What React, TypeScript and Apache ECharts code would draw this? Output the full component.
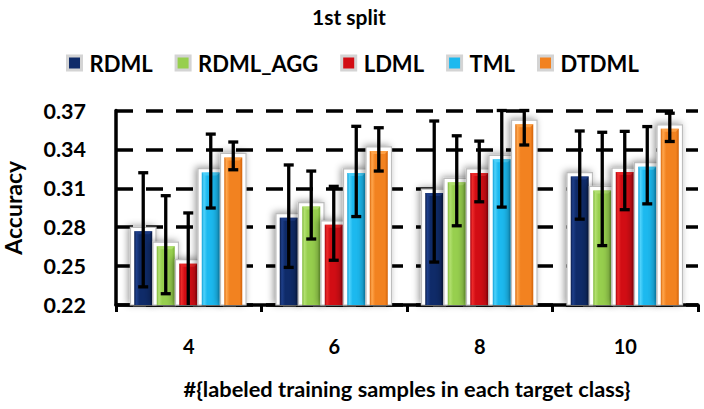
import React, { useEffect, useRef } from 'react';
import * as echarts from 'echarts';

const categories = ['4', '6', '8', '10'];
const methods = ['RDML', 'RDML_AGG', 'LDML', 'TML', 'DTDML'];

const rdml = [0.278, 0.2885, 0.3075, 0.3202];
const rdmlErr = [0.044, 0.0395, 0.0544, 0.034];
const rdmlAgg = [0.2665, 0.2971, 0.3158, 0.3095];
const rdmlAggErr = [0.0378, 0.0262, 0.0347, 0.0437];
const ldml = [0.253, 0.283, 0.323, 0.3237];
const ldmlErr = [0.038, 0.0285, 0.0234, 0.0302];
const tml = [0.3233, 0.323, 0.3335, 0.3278];
const tmlErr = [0.0285, 0.0348, 0.038, 0.0298];
const dtdml = [0.335, 0.34, 0.3606, 0.357];
const dtdmlErr = [0.0107, 0.0167, 0.0172, 0.0109];

const Y_MIN = 0.22;
const Y_MAX = 0.37;
const Y_STEP = 0.03;

const values = [rdml, rdmlAgg, ldml, tml, dtdml];
const errors = [rdmlErr, rdmlAggErr, ldmlErr, tmlErr, dtdmlErr];

// [edge dark, light, base, edge dark]
const palettes = [
  ['#0a1c4a', '#1e3f8a', '#0f2b69', '#081a44'],
  ['#7fb83a', '#b2e070', '#97cf4e', '#78b035'],
  ['#a8000c', '#ec2a2a', '#d20d14', '#a2000a'],
  ['#0f9fd6', '#4fd2fb', '#1cb9ef', '#0d9ad0'],
  ['#d9670a', '#ffa64d', '#f28220', '#d26208'],
];

const FONT = 'Lato';

export default function App() {
  const ref = useRef<HTMLDivElement>(null);
  useEffect(() => {
    const chart = echarts.init(ref.current!, null, { renderer: 'svg' });

    const barSeries = methods.map((name, idx) => {
      const pal = palettes[idx];
      return {
        name,
        type: 'custom',
        z: 2,
        itemStyle: { color: pal[2], borderColor: '#d4d4d4', borderWidth: 3 },
        data: categories.map((c, ci) => [ci, values[idx][ci]]),
        renderItem: (params: any, api: any) => {
          const cat = api.value(0);
          const v = api.value(1);
          const top = api.coord([cat, v]);
          const yBase = api.coord([cat, Y_MIN])[1];
          const catW = api.size([1, 0])[0];
          const pitch = catW * 0.1547;
          const cx = top[0] + (idx - 2) * pitch - 0.5;
          const yTop = top[1];
          const faceW = 18;
          const grad = new echarts.graphic.LinearGradient(0, 0, 1, 0, [
            { offset: 0, color: pal[0] },
            { offset: 0.12, color: pal[1] },
            { offset: 0.3, color: pal[2] },
            { offset: 0.85, color: pal[2] },
            { offset: 1, color: pal[3] },
          ]);
          return {
            type: 'group',
            children: [
              {
                type: 'rect',
                shape: { x: cx - pitch / 2 - 1.5, y: yTop - 2.5, width: pitch + 3, height: yBase - yTop + 2.5 },
                style: {
                  fill: '#ffffff',
                  stroke: '#bdbdbd',
                  lineWidth: 1.2,
                  shadowBlur: 7,
                  shadowColor: 'rgba(0,0,0,0.4)',
                  shadowOffsetX: -2,
                  shadowOffsetY: -1,
                },
              },
              {
                type: 'rect',
                shape: { x: cx - faceW / 2, y: yTop + 1.5, width: faceW, height: yBase - yTop - 1.5 },
                style: { fill: grad },
              },
              {
                type: 'polygon',
                shape: {
                  points: [
                    [cx - faceW / 2, yTop + 1.5],
                    [cx + faceW / 2, yTop + 1.5],
                    [cx + faceW / 2 - 3, yTop + 4.5],
                    [cx - faceW / 2 + 3, yTop + 4.5],
                  ],
                },
                style: { fill: pal[1], opacity: 0.8 },
              },
            ],
          };
        },
      };
    });

    const errData: number[][] = [];
    methods.forEach((m, idx) => {
      categories.forEach((c, ci) => {
        errData.push([ci, idx, values[idx][ci], errors[idx][ci]]);
      });
    });

    const errSeries = {
      name: 'err',
      type: 'custom',
      z: 10,
      encode: { x: 0, y: 2 },
      data: errData,
      renderItem: (params: any, api: any) => {
        const cat = api.value(0);
        const idx = api.value(1);
        const v = api.value(2);
        const e = api.value(3);
        const catW = api.size([1, 0])[0];
        const pitch = catW * 0.1547;
        const hi = api.coord([cat, Math.min(v + e, Y_MAX)]);
        const lo = api.coord([cat, Math.max(v - e, Y_MIN)]);
        const cx = hi[0] + (idx - 2) * pitch - 0.5;
        const capLo = v - e >= Y_MIN;
        const st = { stroke: '#000', lineWidth: 3.3 };
        const children: any[] = [
          { type: 'line', shape: { x1: cx, y1: hi[1], x2: cx, y2: lo[1] }, style: st },
          { type: 'line', shape: { x1: cx - 5, y1: hi[1], x2: cx + 5, y2: hi[1] }, style: st },
        ];
        if (capLo) {
          children.push({ type: 'line', shape: { x1: cx - 5, y1: lo[1], x2: cx + 5, y2: lo[1] }, style: st });
        }
        return { type: 'group', children };
      },
    };

    const option: any = {
      animation: false,
      backgroundColor: '#ffffff',
      title: {
        text: '1st split',
        left: 307,
        top: 1,
        textStyle: { fontFamily: FONT, fontSize: 21, fontWeight: 'bold', color: '#000' },
      },
      legend: {
        data: methods,
        icon: 'rect',
        left: 66,
        top: 52,
        padding: 0,
        itemGap: 22,
        itemWidth: 14,
        itemHeight: 14,
        itemStyle: { borderColor: '#d4d4d4', borderWidth: 3 },
        textStyle: { fontFamily: FONT, fontSize: 22, fontWeight: 'bold', color: '#000', padding: [0, 0, 0, 3] },
      },
      grid: { left: 116, right: 6, top: 110.5, bottom: 104, outerBoundsMode: 'none' },
      xAxis: {
        type: 'category',
        data: categories,
        name: '#{labeled training samples in each target class}',
        nameLocation: 'middle',
        nameGap: 72,
        nameTextStyle: { fontFamily: FONT, fontSize: 21.8, fontWeight: 'bold', color: '#000' },
        axisLine: { show: true, onZero: false, lineStyle: { color: '#000', width: 3.5 } },
        axisTick: { show: true, length: 7, lineStyle: { color: '#000', width: 3 } },
        axisLabel: { margin: 31, fontFamily: FONT, fontSize: 20, fontWeight: 'bold', color: '#000' },
        splitLine: { show: false },
      },
      yAxis: {
        type: 'value',
        min: Y_MIN,
        max: Y_MAX,
        interval: Y_STEP,
        name: 'Accuracy',
        nameLocation: 'middle',
        nameGap: 92,
        nameTextStyle: { fontFamily: FONT, fontSize: 23, fontWeight: 'bold', color: '#000' },
        axisLine: { show: true, lineStyle: { color: '#000', width: 3.5 } },
        axisTick: { show: false },
        axisLabel: {
          margin: 30,
          fontFamily: FONT,
          fontSize: 21.5,
          fontWeight: 'bold',
          color: '#000',
          formatter: (v: number) => v.toFixed(2),
        },
        splitLine: { show: true, lineStyle: { color: '#000', width: 3.5, type: [17, 13] } },
      },
      series: [...barSeries, errSeries],
    };

    chart.setOption(option);
    return () => chart.dispose();
  }, []);
  return <div ref={ref} style={{ position: 'fixed', left: 0, top: 0, width: 704, height: 409 }} />;
}
